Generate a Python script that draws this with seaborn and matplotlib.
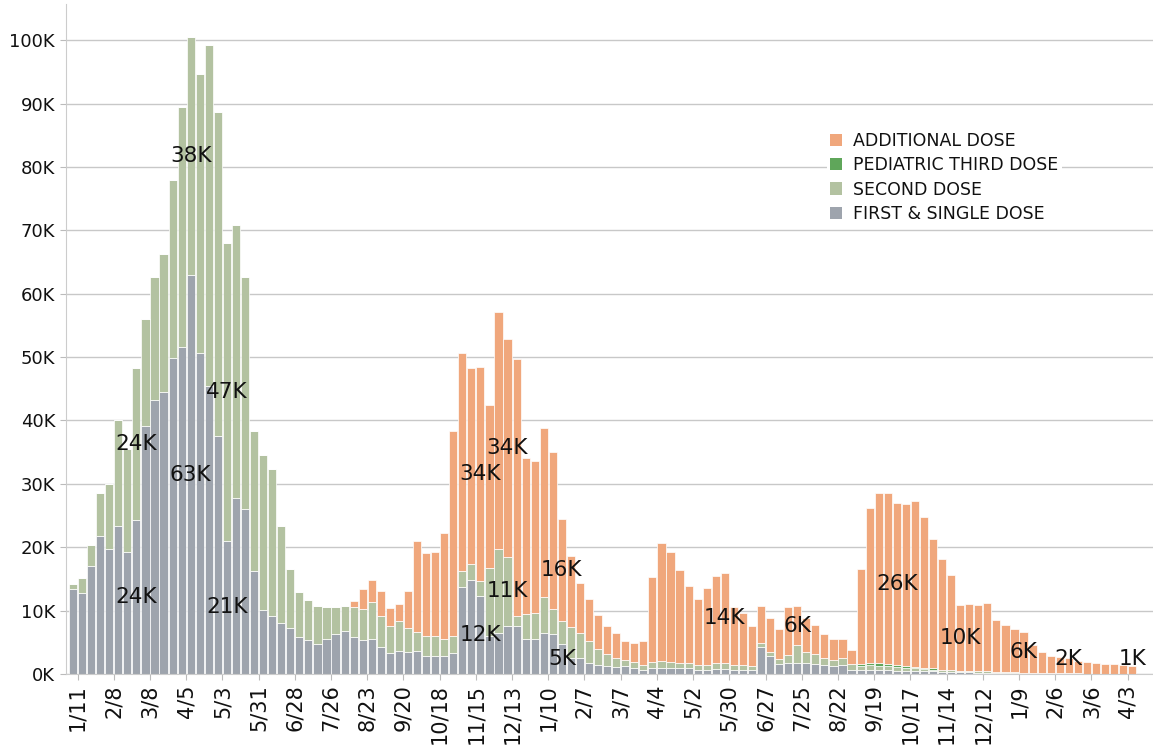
import pandas as pd
import matplotlib
matplotlib.use('Agg')
import matplotlib.pyplot as plt
from matplotlib.patches import Patch
import numpy as np
import seaborn as sns

# weekly doses (thousands), one value per week from early Jan 2021
first_dose = [13.4, 12.7, 17.1, 21.7, 19.7, 23.4, 19.2, 24.3, 39.2, 43.2,
              44.5, 49.8, 51.6, 62.9, 50.7, 45.5, 37.5, 21.0, 27.7, 26.0,
              16.3, 10.1, 9.1, 8.0, 7.2, 5.8, 5.4, 4.7, 5.5, 6.3,
              6.8, 5.9, 5.3, 5.5, 4.2, 3.3, 3.6, 3.5, 3.6, 2.9,
              2.9, 2.9, 3.3, 13.8, 14.9, 12.3, 6.0, 6.5, 7.6, 7.6,
              5.6, 5.5, 6.4, 6.3, 4.8, 2.5, 2.5, 1.8, 1.4, 1.3,
              1.1, 1.2, 1.0, 0.7, 1.0, 1.0, 1.0, 0.9, 0.9, 0.7,
              0.7, 0.8, 0.8, 0.7, 0.7, 0.6, 4.3, 2.8, 1.6, 1.7,
              1.8, 1.7, 1.5, 1.4, 1.3, 1.4, 0.7, 0.7, 0.7, 0.6,
              0.6, 0.5, 0.5, 0.5, 0.4, 0.4, 0.3, 0.3, 0.3, 0.3,
              0.2, 0.2, 0.2, 0.2, 0.2, 0.1, 0.1, 0.1, 0.1, 0.1,
              0.1, 0.1, 0.0, 0.0, 0.0, 0.0, 0.0, 0.0]
second_dose = [0.8, 2.5, 3.2, 6.9, 10.3, 16.7, 16.3, 24.0, 16.8, 19.5,
               21.7, 28.1, 37.9, 37.6, 44.0, 53.8, 51.1, 47.0, 43.2, 36.7,
               22.1, 24.4, 23.2, 15.4, 9.4, 7.1, 6.3, 6.1, 5.0, 4.3,
               4.0, 4.7, 4.9, 5.9, 5.0, 4.3, 4.7, 3.7, 3.1, 3.1,
               3.1, 2.6, 2.7, 2.4, 2.4, 2.3, 10.7, 13.2, 10.9, 1.5,
               3.8, 4.1, 5.8, 3.9, 3.5, 4.9, 4.0, 3.4, 2.5, 1.8,
               1.4, 1.0, 0.9, 0.7, 0.9, 1.1, 0.9, 0.8, 0.8, 0.7,
               0.7, 0.9, 0.9, 0.7, 0.7, 0.7, 0.6, 0.7, 0.7, 1.3,
               2.7, 1.8, 1.6, 1.1, 0.9, 1.1, 0.8, 0.6, 0.7, 0.7,
               0.6, 0.6, 0.4, 0.4, 0.4, 0.3, 0.3, 0.3, 0.2, 0.2,
               0.2, 0.2, 0.1, 0.1, 0.1, 0.1, 0.1, 0.1, 0.1, 0.0,
               0.0, 0.0, 0.0, 0.0, 0.0, 0.0, 0.0, 0.0]
pediatric_third = [0.0] * 87 + [0.2, 0.4, 0.5, 0.3, 0.3, 0.3, 0.2, 0.2, 0.2] + [0.0] * 22
additional_dose = [0.0] * 31 + [
    0.9, 3.2, 3.5, 3.9, 2.8, 2.8, 5.9, 14.3, 13.1,
    13.2, 16.7, 32.4, 34.4, 31.0, 33.9, 25.8, 37.4, 34.3, 40.6,
    24.6, 24.0, 26.6, 24.9, 16.1, 11.2, 7.9, 6.6, 5.4, 4.4,
    3.9, 3.0, 3.0, 3.8, 13.4, 18.6, 17.3, 14.7, 12.2, 10.5,
    12.2, 13.8, 14.2, 9.1, 8.3, 6.3, 5.9, 5.4, 4.8, 7.5,
    6.3, 5.3, 4.6, 3.8, 3.4, 3.0, 2.3, 15.1, 24.4, 26.8,
    27.1, 25.6, 25.6, 26.2, 23.8, 20.4, 17.5, 15.0, 10.4, 10.5,
    10.5, 10.8, 8.2, 7.4, 6.8, 6.4, 4.4, 3.2, 2.7, 2.6,
    2.4, 2.0, 1.9, 1.7, 1.5, 1.5, 1.4, 1.2]

tick_labels = ['1/11', '2/8', '3/8', '4/5', '5/3', '5/31', '6/28', '7/26', '8/23',
               '9/20', '10/18', '11/15', '12/13', '1/10', '2/7', '3/7', '4/4', '5/2',
               '5/30', '6/27', '7/25', '8/22', '9/19', '10/17', '11/14', '12/12',
               '1/9', '2/6', '3/6', '4/3']

series_names = ['ADDITIONAL DOSE', 'PEDIATRIC THIRD DOSE', 'SECOND DOSE', 'FIRST & SINGLE DOSE']
colors = ['#f0a77c', '#5fa65a', '#b3c2a1', '#9ea4ad']

# (week, series) segments that carry a value label
labelled = [(7, 'SECOND DOSE'), (7, 'FIRST & SINGLE DOSE'),
            (13, 'SECOND DOSE'), (13, 'FIRST & SINGLE DOSE'),
            (17, 'SECOND DOSE'), (17, 'FIRST & SINGLE DOSE'),
            (45, 'ADDITIONAL DOSE'), (45, 'FIRST & SINGLE DOSE'),
            (48, 'ADDITIONAL DOSE'), (48, 'SECOND DOSE'),
            (54, 'ADDITIONAL DOSE'), (54, 'FIRST & SINGLE DOSE'),
            (72, 'ADDITIONAL DOSE'), (80, 'ADDITIONAL DOSE'), (91, 'ADDITIONAL DOSE'),
            (98, 'ADDITIONAL DOSE'), (105, 'ADDITIONAL DOSE'), (110, 'ADDITIONAL DOSE'),
            (117, 'ADDITIONAL DOSE')]

n = len(first_dose)
weeks = np.arange(n)
values = {'ADDITIONAL DOSE': additional_dose, 'PEDIATRIC THIRD DOSE': pediatric_third,
          'SECOND DOSE': second_dose, 'FIRST & SINGLE DOSE': first_dose}
df = pd.DataFrame({'week': np.tile(weeks, 4),
                   'dose': np.repeat(series_names, n),
                   'count': np.concatenate([values[s] for s in series_names])})

fig = plt.figure(figsize=(11.53, 7.46), dpi=100)
ax = fig.add_axes([65.5 / 1153, 72 / 746, 1087.5 / 1153, 670 / 746])

sns.histplot(data=df, x='week', weights='count', hue='dose', hue_order=series_names,
             multiple='stack', discrete=True, shrink=0.9, palette=colors,
             edgecolor='white', linewidth=0.5, alpha=1, legend=False, ax=ax)

# value labels in the middle of their segment
stack_order = ['FIRST & SINGLE DOSE', 'SECOND DOSE', 'PEDIATRIC THIRD DOSE', 'ADDITIONAL DOSE']
for wk, name in labelled:
    below = sum(values[s][wk] for s in stack_order[:stack_order.index(name)])
    seg = values[name][wk]
    y = max(below + seg / 2, 2.4)
    ax.text(wk, y, f'{round(seg)}K', ha='center', va='center', fontsize=15.5, color='#111111')

ax.set_xlim(-0.83, 119.3)
ax.set_ylim(0, 105.7)
ax.set_xticks(np.arange(len(tick_labels)) * 4 + 0.5)
ax.set_xticklabels(tick_labels, rotation=90, fontsize=15, color='#111111')
yt = np.arange(0, 101, 10)
ax.set_yticks(yt)
ax.set_yticklabels([f'{v}K' for v in yt], fontsize=13, color='#111111')
ax.set_xlabel('')
ax.set_ylabel('')
ax.set_axisbelow(True)
ax.grid(axis='y', color='#c8c8c8', linewidth=1.0)
ax.grid(axis='x', visible=False)
for side in ['top', 'right']:
    ax.spines[side].set_visible(False)
for side in ['left', 'bottom']:
    ax.spines[side].set_color('#cccccc')
ax.tick_params(axis='both', colors='#bbbbbb', labelcolor='#111111', length=4, width=0.8)

handles = [Patch(facecolor=c, edgecolor='none', label=s) for s, c in zip(series_names, colors)]
leg = ax.legend(handles=handles, loc='upper left', bbox_to_anchor=(0.70, 0.814),
                frameon=True, facecolor='white', edgecolor='none', framealpha=1,
                fontsize=12.5, handlelength=0.7, handleheight=0.7, handletextpad=0.6,
                labelspacing=0.36, borderpad=0.2, borderaxespad=0)
for t in leg.get_texts():
    t.set_color('#111111')

fig.savefig('out.png', dpi=100)
